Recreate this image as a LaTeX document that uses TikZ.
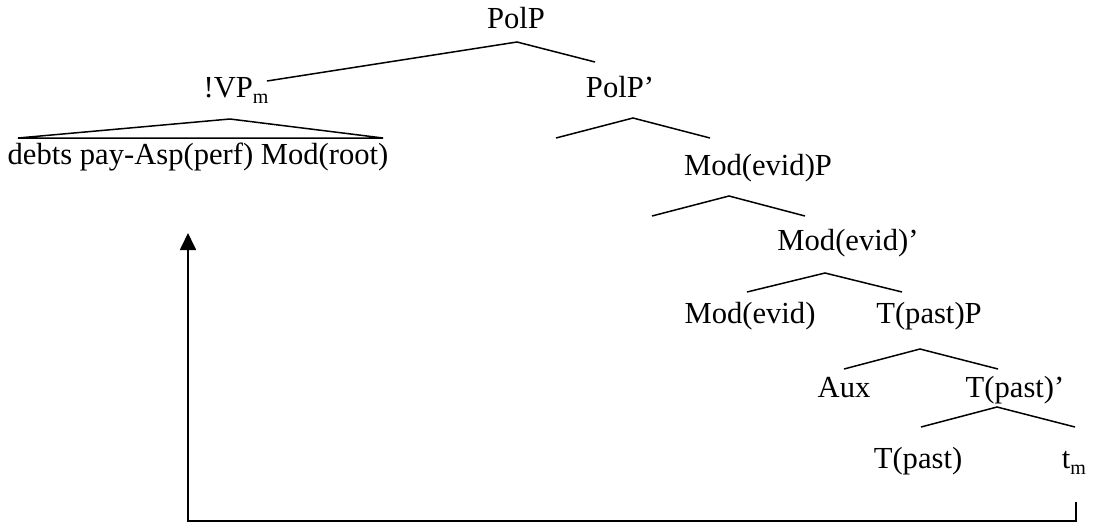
\documentclass[tikz,border=0pt]{standalone}
\usepackage{fontspec}
\setmainfont{Liberation Serif}
\usetikzlibrary{arrows.meta}
\newcommand{\subm}{\raisebox{-0.22em}{\fontsize{20}{20}\selectfont m}}
\begin{document}
\begin{tikzpicture}[x=1pt,y=-1pt,
  lbl/.style={anchor=base,inner sep=0pt,font=\fontsize{30.6}{36}\selectfont},
  branch/.style={line width=1.5pt,line join=miter},
  move/.style={line width=1.8pt,-{Triangle[width=16pt,length=17pt]}}]
\useasboundingbox (0,0) rectangle (1094,523);
% labels
\node[lbl] (polp) at (516,28) {PolP};
\node[lbl] (vp) at (236,97) {!VP\subm};
\node[lbl] (polpb) at (620,97) {PolP'};
\node[lbl] (debts) at (198,164) {debts pay-Asp(perf) Mod(root)};
\node[lbl] (modp) at (758,175) {Mod(evid)P};
\node[lbl] (modb) at (848,250) {Mod(evid)'};
\node[lbl] (mod) at (750,323) {Mod(evid)};
\node[lbl] (tp) at (929,323) {T(past)P};
\node[lbl] (aux) at (844,397) {Aux};
\node[lbl] (tb) at (1015,397) {T(past)'};
\node[lbl] (t) at (918,468) {T(past)};
\node[lbl] (tm) at (1074,468) {t\subm};
% branch points
\coordinate (a0) at (517,42);
\coordinate (a0l) at (267,81);
\coordinate (a0r) at (595,62);
\coordinate (tri) at (230,119);
\coordinate (tril) at (18,138);
\coordinate (trir) at (383,138);
\coordinate (a1) at (633,118);
\coordinate (a1l) at (556,138);
\coordinate (a1r) at (710,138);
\coordinate (a2) at (729,196);
\coordinate (a2l) at (652,216);
\coordinate (a2r) at (805,216);
\coordinate (a3) at (825,273);
\coordinate (a3l) at (747,292);
\coordinate (a3r) at (902,292);
\coordinate (a4) at (920,349);
\coordinate (a4l) at (844,369);
\coordinate (a4r) at (998,369);
\coordinate (a5) at (997,407);
\coordinate (a5l) at (921,427);
\coordinate (a5r) at (1075,427);
\draw[branch] (a0l) -- (a0) -- (a0r);
\draw[branch] (tril) -- (tri) -- (trir) -- cycle;
\draw[branch] (a1l) -- (a1) -- (a1r);
\draw[branch] (a2l) -- (a2) -- (a2r);
\draw[branch] (a3l) -- (a3) -- (a3r);
\draw[branch] (a4l) -- (a4) -- (a4r);
\draw[branch] (a5l) -- (a5) -- (a5r);
% movement
\coordinate (mvR) at (1076,502);
\coordinate (mvBR) at (1076,521);
\coordinate (mvBL) at (188,521);
\coordinate (mvT) at (188,233);
\draw[move] (mvR) -- (mvBR) -- (mvBL) -- (mvT);
\end{tikzpicture}
\end{document}
